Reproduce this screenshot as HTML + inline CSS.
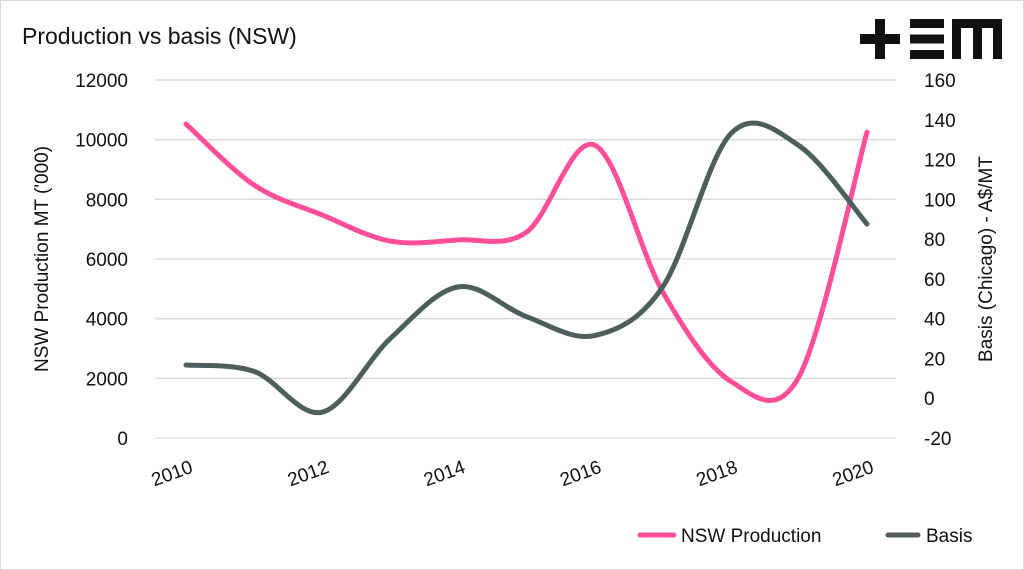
<!DOCTYPE html>
<html><head><meta charset="utf-8"><style>
body{margin:0;background:#fff;}
svg{display:block;font-family:"Liberation Sans",sans-serif;}
</style></head><body>
<svg width="1024" height="570" viewBox="0 0 1024 570">
<rect x="0.5" y="0.5" width="1023" height="569" fill="#fff" stroke="#d9d9d9"/>
<text x="22" y="44" font-size="23" fill="#111">Production vs basis (NSW)</text>
<g fill="#111">
<rect x="860" y="34" width="40" height="10"/><rect x="875" y="19" width="10" height="40"/>
<rect x="910" y="19" width="34" height="9"/><rect x="910" y="34.5" width="34" height="9"/><rect x="910" y="50" width="34" height="9"/>
<path d="M952 59V19h50v40h-9V28h-11v31h-9V28h-12v31z"/>
</g>
<g id="grid"></g><g id="ticks"></g><g id="lines"></g>
<text transform="translate(48,259) rotate(-90)" text-anchor="middle" font-size="19" fill="#111">NSW Production MT ('000)</text>
<text transform="translate(992,259) rotate(-90)" text-anchor="middle" font-size="19" fill="#111">Basis (Chicago) - A$/MT</text>
<g>
<line x1="640" y1="535" x2="674" y2="535" stroke="#ff4f9a" stroke-width="5" stroke-linecap="round"/>
<text x="681" y="542" font-size="19" fill="#111">NSW Production</text>
<line x1="888" y1="535" x2="918" y2="535" stroke="#4d5e5c" stroke-width="5" stroke-linecap="round"/>
<text x="926" y="542" font-size="19" fill="#111">Basis</text>
</g>
</svg>
<script>
const years=[2010,2011,2012,2013,2014,2015,2016,2017,2018,2019,2020];
const production=[10525,8480,7475,6600,6640,6900,9820,4900,1900,2050,10257];
const basis=[16.7,13.5,-7,30,56,41,31.5,56,133,127,87.6];
const leftTicks=[0,2000,4000,6000,8000,10000,12000];
const rightTicks=[-20,0,20,40,60,80,100,120,140,160];
const xLabels=[2010,2012,2014,2016,2018,2020];
const NS='http://www.w3.org/2000/svg';
const x=y=>186+(y-2010)*68.1;
const yL=v=>438-v/12000*358;
const yR=v=>438-(v+20)/180*358;
function el(t,a,p){const e=document.createElementNS(NS,t);for(const k in a)e.setAttribute(k,a[k]);p.appendChild(e);return e;}
const grid=document.getElementById('grid'),ticks=document.getElementById('ticks'),lines=document.getElementById('lines');
leftTicks.forEach(v=>{
const g=el('line',{x1:155,x2:896,y1:yL(v),y2:yL(v),stroke:'#d9d9d9','stroke-width':1.3},grid);


const t=el('text',{x:128,y:yL(v)+7,'text-anchor':'end','font-size':19,fill:'#111'},ticks);t.textContent=v;


});
rightTicks.forEach(v=>{
const t=el('text',{x:924,y:yR(v)+7,'font-size':19,fill:'#111'},ticks);t.textContent=v;


});
xLabels.forEach(v=>{
const t=el('text',{transform:`translate(${x(v)+8},472) rotate(-20)`,'text-anchor':'end','font-size':19,fill:'#111'},ticks);t.textContent=v;


});
function smooth(pts){let d=`M${pts[0][0]},${pts[0][1]}`;
for(let i=0;i<pts.length-1;i++){const p0=pts[Math.max(0,i-1)],p1=pts[i],p2=pts[i+1],p3=pts[Math.min(pts.length-1,i+2)];
const c1=[p1[0]+(p2[0]-p0[0])/6,p1[1]+(p2[1]-p0[1])/6],c2=[p2[0]-(p3[0]-p1[0])/6,p2[1]-(p3[1]-p1[1])/6];
d+=` C${c1[0]},${c1[1]} ${c2[0]},${c2[1]} ${p2[0]},${p2[1]}`;}return d;}
const pp=el('path',{d:smooth(years.map((y,i)=>[x(y),yL(production[i])])),fill:'none',stroke:'#ff4f9a','stroke-width':5,'stroke-linecap':'round'},lines);


const bp=el('path',{d:smooth(years.map((y,i)=>[x(y),yR(basis[i])])),fill:'none',stroke:'#4d5e5c','stroke-width':5,'stroke-linecap':'round'},lines);


</script>
</body></html>
